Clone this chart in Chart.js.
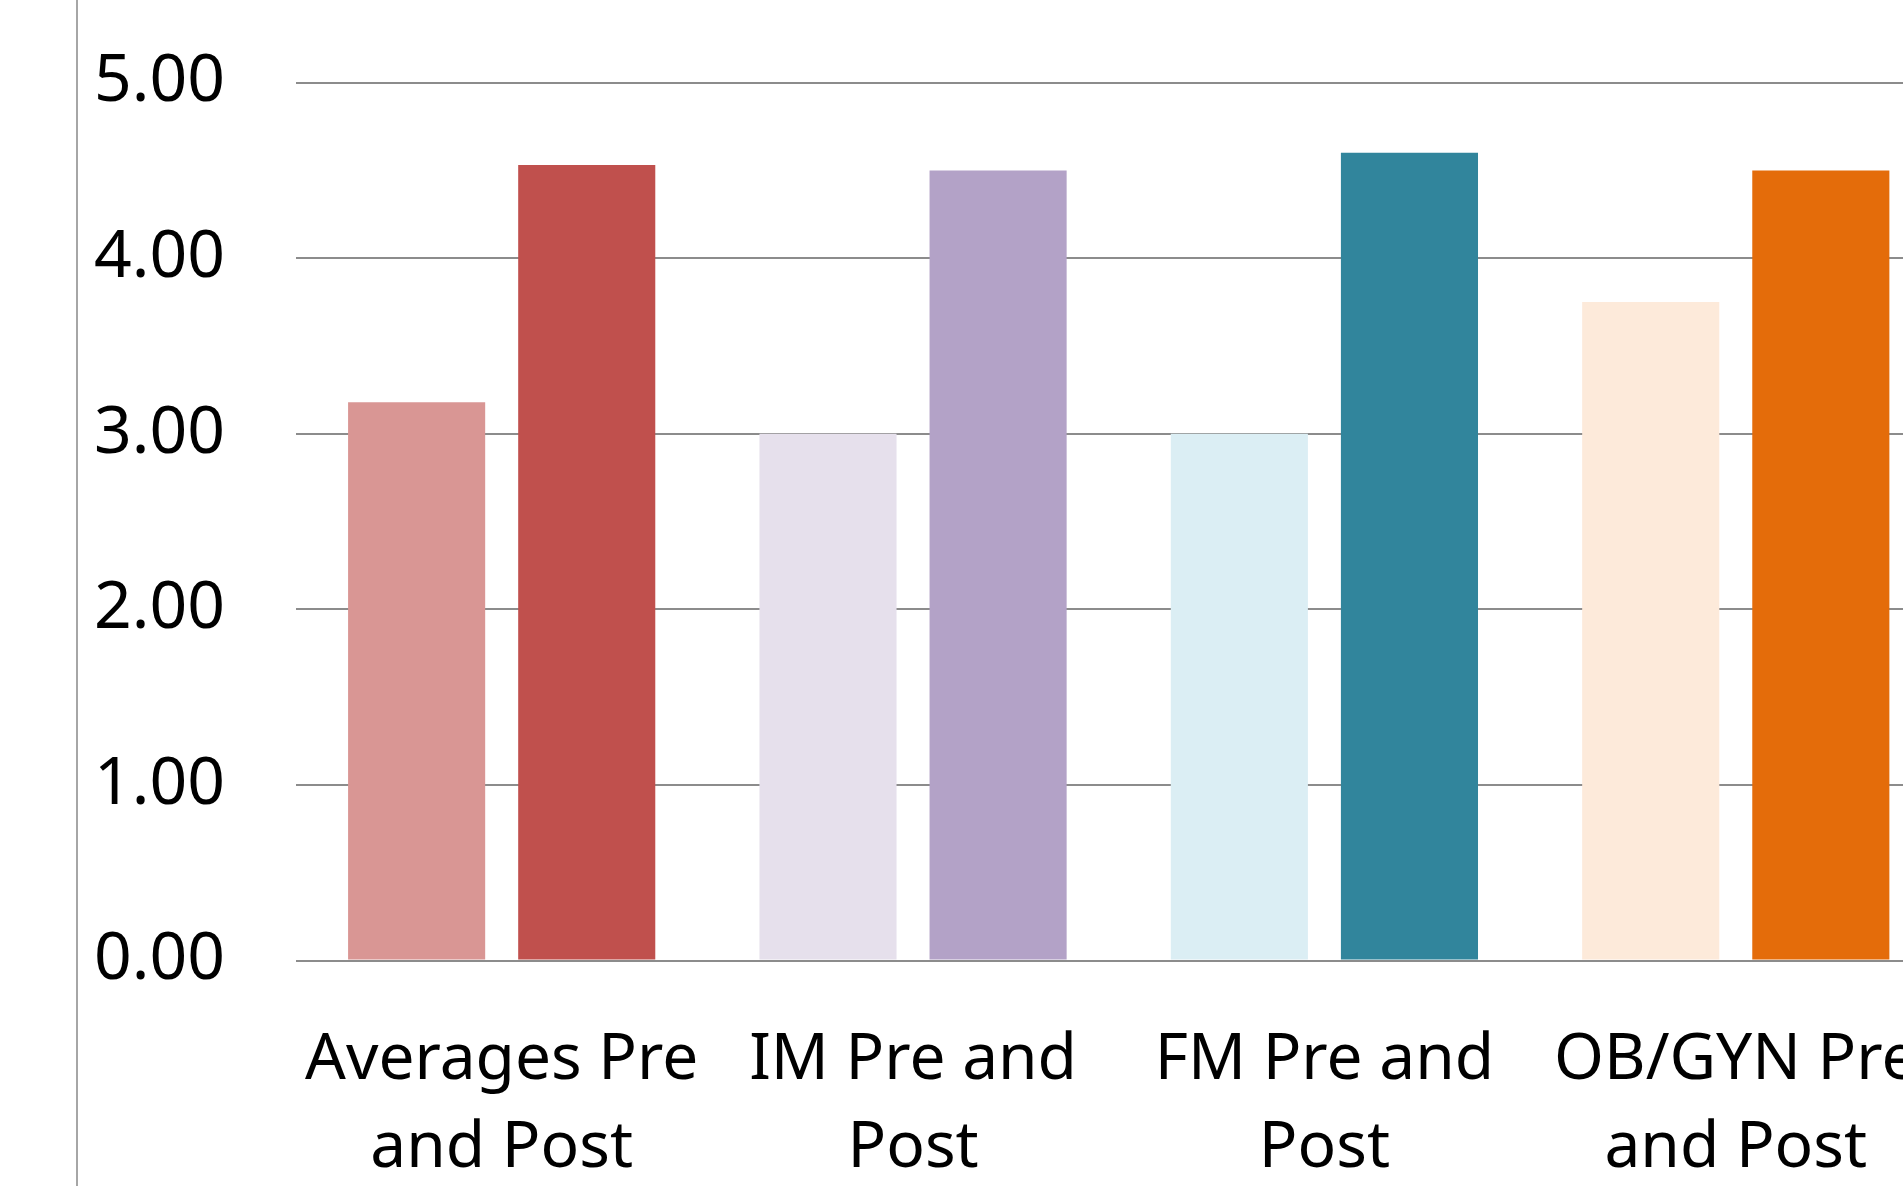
<!DOCTYPE html>
<html>
<head>
<meta charset="utf-8">
<script src="https://cdn.jsdelivr.net/npm/chart.js@4/dist/chart.umd.min.js"></script>
<style>
  html, body { margin: 0; padding: 0; background: #ffffff; overflow: hidden; width: 1903px; height: 1186px; }
  #frame { position: absolute; left: 76px; top: -28px; height: 1300px; border-left: 2px solid #a6a6a6; }
  #chart { display: block; }
</style>
</head>
<body>
<div id="frame"><canvas id="chart" width="1896" height="1290"></canvas></div>
<script>
const categories = [
  ["Averages Pre", "and Post"],
  ["IM Pre and", "Post"],
  ["FM Pre and", "Post"],
  ["OB/GYN Pre", "and Post"]
];
const preValues  = [3.18, 3.00, 3.00, 3.75];
const postValues = [4.53, 4.50, 4.60, 4.50];
const preColors  = ["#D99694", "#E6E0EC", "#DBEEF4", "#FDEADA"];
const postColors = ["#C0504D", "#B3A2C7", "#31859C", "#E46C0A"];
const yTicks = [0, 1, 2, 3, 4, 5];

new Chart(document.getElementById('chart'), {
  type: 'bar',
  data: {
    labels: categories,
    datasets: [
      { label: 'Pre', data: preValues, backgroundColor: preColors, borderWidth: 0,
        categoryPercentage: 0.827, barPercentage: 0.806 },
      { label: 'Post', data: postValues, backgroundColor: postColors, borderWidth: 0,
        categoryPercentage: 0.827, barPercentage: 0.806 }
    ]
  },
  options: {
    responsive: false,
    animation: false,
    events: [],
    layout: { padding: { top: 57, right: 0, bottom: 12.5, left: 0 } },
    plugins: { legend: { display: false }, title: { display: false }, tooltip: { enabled: false } },
    scales: {
      x: {
        grid: { display: false, drawTicks: false },
        border: { display: false },
        ticks: {
          color: '#000000',
          padding: 56.5,
          maxRotation: 0,
          autoSkip: false,
          font: { family: 'Noto Sans', size: 64, lineHeight: 1.375 }
        }
      },
      y: {
        min: 0,
        max: 5,
        afterFit: (scale) => { scale.width = 218; },
        afterBuildTicks: (scale) => { scale.ticks = yTicks.map(v => ({ value: v })); },
        grid: { color: '#8c8c8c', lineWidth: 2, drawTicks: false },
        border: { display: false },
        ticks: {
          color: '#000000',
          padding: 71,
          font: { family: 'Noto Sans', size: 66 },
          callback: (v) => Number(v).toFixed(2)
        }
      }
    }
  }
});
</script>
</body>
</html>
